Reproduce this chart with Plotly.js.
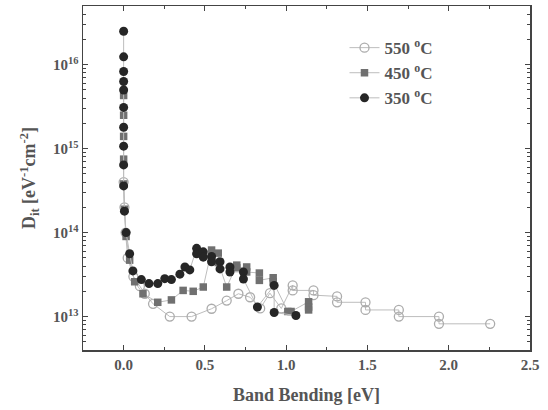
<!DOCTYPE html>
<html><head><meta charset="utf-8">
<script src="https://cdn.plot.ly/plotly-3.0.1.min.js"></script>
<style>html,body{margin:0;padding:0;background:#fff}#plot{width:548px;height:410px}</style>
</head><body><div id="plot"></div>
<script>
// 350 °C (filled black circles)
const x350 = [0,0,0,0,0,0,0,0,0,0,0.005,0.015,0.037,0.057,0.109,0.156,0.21,0.253,0.294,0.346,0.377,0.407,0.449,0.449,0.49,0.49,0.541,0.541,0.593,0.593,0.654,0.654,0.737,0.737,0.823,0.926,0.926,1.06];
const y350 = [2.5e16,1.24e16,8.3e15,6.3e15,5e15,3.1e15,1.8e15,1.07e15,6.4e14,3.6e14,1.8e14,1.0e14,5.6e13,3.5e13,2.76e13,2.47e13,2.47e13,2.83e13,2.76e13,3.2e13,3.9e13,3.6e13,6.5e13,5.6e13,5.9e13,5.1e13,5.2e13,4.5e13,4.5e13,3.7e13,3.9e13,3.4e13,3.4e13,2.8e13,1.3e13,2.35e13,1.12e13,1.03e13];
// 450 °C (gray squares)
const x450 = [0,0,0,0,0,0.005,0.015,0.037,0.068,0.119,0.21,0.294,0.366,0.428,0.49,0.541,0.541,0.582,0.582,0.634,0.696,0.696,0.757,0.757,0.835,0.835,0.92,0.92,1.01,1.03,1.138,1.138,1.138];
const y450 = [4.3e15,2.5e15,1.4e15,7.5e14,3.8e14,1.9e14,9e13,4.7e13,2.6e13,1.87e13,1.48e13,1.58e13,2.05e13,2.0e13,2.25e13,6.2e13,5.0e13,5.7e13,4.4e13,2.25e13,4.1e13,3.8e13,3.9e13,3.4e13,3.3e13,2.7e13,2.9e13,2.6e13,1.15e13,1.15e13,1.5e13,1.3e13,1.2e13];
// 550 °C (open circles)
const x550 = [0,0.005,0.012,0.025,0.06,0.1,0.13,0.181,0.284,0.418,0.541,0.634,0.706,0.778,0.84,0.9,0.97,1.04,1.04,1.168,1.168,1.313,1.313,1.488,1.488,1.693,1.693,1.94,1.94,2.255];
const y550 = [4e14,2e14,1e14,5e13,3e13,2.3e13,1.87e13,1.42e13,1.0e13,1.0e13,1.24e13,1.55e13,1.87e13,1.7e13,1.25e13,1.9e13,1.25e13,2.35e13,2.05e13,2.05e13,1.8e13,1.74e13,1.48e13,1.48e13,1.2e13,1.2e13,1.0e13,1.0e13,8.2e12,8.2e12];

const xTickVals = [0,0.5,1.0,1.5,2.0,2.5];
const xTickText = ['0.0','0.5','1.0','1.5','2.0','2.5'];
const yTickVals = [1e13,1e14,1e15,1e16];
const yTickText = ['10<sup>13</sup>','10<sup>14</sup>','10<sup>15</sup>','10<sup>16</sup>'];
const names = ['550 <sup>o</sup>C','450 <sup>o</sup>C','350 <sup>o</sup>C'];

const serif = 'Liberation Serif, Times New Roman, serif';
const lineCol = '#bdbdbd';
const traces = [
  {x:x550,y:y550,name:names[0],mode:'lines+markers',line:{color:lineCol,width:1},
   marker:{symbol:'circle-open',size:9,color:'#acacac',line:{width:1.3,color:'#acacac'}}},
  {x:x450,y:y450,name:names[1],mode:'lines+markers',line:{color:lineCol,width:1},
   marker:{symbol:'square',size:7.5,color:'#707070'}},
  {x:x350,y:y350,name:names[2],mode:'lines+markers',line:{color:lineCol,width:1},
   marker:{symbol:'circle',size:9,color:'#262626'}}
];
const layout = {
  width:548,height:410,
  margin:{l:83,r:18,t:6,b:60},
  paper_bgcolor:'#fff',plot_bgcolor:'#fff',
  font:{family:serif,color:'#505050',size:14},
  showlegend:true,
  legend:{x:0.585,y:0.93,xanchor:'left',yanchor:'top',bgcolor:'rgba(0,0,0,0)',
    font:{family:serif,size:17,color:'#555',weight:'bold'},tracegroupgap:0},
  xaxis:{range:[-0.25,2.5],tickvals:xTickVals,ticktext:xTickText,ticks:'inside',ticklen:5,
    tickcolor:'#444',showline:true,linecolor:'#444',linewidth:1.5,mirror:'ticks',showgrid:false,zeroline:false,
    tickfont:{family:serif,size:15,color:'#555',weight:'bold'},
    minor:{dtick:0.25,tick0:0,ticks:'inside',ticklen:3,tickcolor:'#444',showgrid:false},
    title:{text:'Band Bending [eV]',font:{family:serif,size:18,color:'#555',weight:'bold'},standoff:17}},
  yaxis:{type:'log',range:[Math.log10(4e12),Math.log10(5e16)],tickvals:yTickVals,ticktext:yTickText,
    ticks:'inside',ticklen:5,tickcolor:'#444',showline:true,linecolor:'#444',linewidth:1.5,mirror:'ticks',
    showgrid:false,zeroline:false,
    tickfont:{family:serif,size:15,color:'#555',weight:'bold'},
    minor:{ticks:'inside',ticklen:3,tickcolor:'#444',showgrid:false,dtick:'D1'},
    title:{text:'D<sub>it</sub> [eV<sup>-1</sup>cm<sup>-2</sup>]',font:{family:serif,size:18,color:'#555',weight:'bold'},standoff:12}}
};
Plotly.newPlot('plot',traces,layout,{staticPlot:true,displayModeBar:false});
</script></body></html>
